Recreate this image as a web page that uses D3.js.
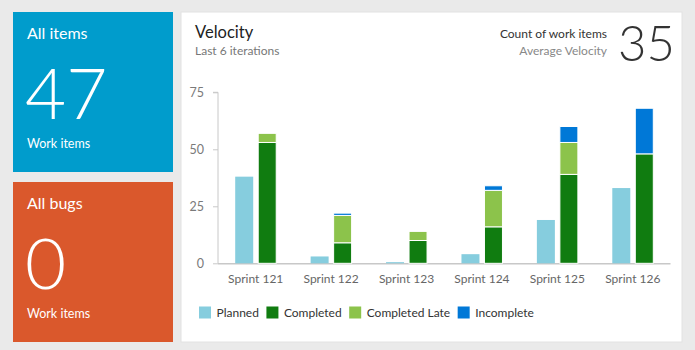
<!DOCTYPE html>
<html>
<head>
<meta charset="utf-8">
<script src="https://cdn.jsdelivr.net/npm/d3@7"></script>
<style>
  html, body { margin: 0; padding: 0; background: #eaeaea; }
  svg { display: block; }
  text { font-family: Lato, "Open Sans", sans-serif; }
</style>
</head>
<body>
<svg id="chart" width="695" height="350"></svg>
<script>
// ---- data ----
const sprints = ["Sprint 121", "Sprint 122", "Sprint 123", "Sprint 124", "Sprint 125", "Sprint 126"];
const planned = [38, 3, 0.5, 4, 19, 33];
const completed = [53, 9, 10, 16, 39, 48];
const completedLate = [4, 12, 4, 16, 14, 0];
const incomplete = [0, 1, 0, 2, 7, 20];
const yTicks = [0, 25, 50, 75];
const seriesNames = ["Planned", "Completed", "Completed Late", "Incomplete"];
const seriesColors = ["#86cdde", "#107c10", "#8cc34b", "#0078d7"];
const tiles = [
  { title: "All items", value: "47", sub: "Work items", color: "#009ccc" },
  { title: "All bugs", value: "0", sub: "Work items", color: "#da582c" }
];
const headerTitle = "Velocity";
const headerSub = "Last 6 iterations";
const metricLabel = "Count of work items";
const metricSub = "Average Velocity";
const metricValue = "35";

const FONT = 'Lato, "Open Sans", sans-serif';
const svg = d3.select("#chart");

// ---- tiles ----
const tileG = svg.selectAll("g.tile").data(tiles).join("g")
  .attr("class", "tile")
  .attr("transform", (d, i) => `translate(13,${12 + i * 170})`);
tileG.append("rect").attr("width", 160).attr("height", 160).attr("fill", d => d.color);
tileG.append("text").attr("x", 14).attr("y", 26.5).attr("fill", "#fff")
  .attr("font-size", 16).text(d => d.title);
tileG.append("text").attr("x", 12).attr("y", 107).attr("fill", "#fff")
  .attr("font-size", 71).attr("font-weight", 300).text(d => d.value);
tileG.append("text").attr("x", 14).attr("y", 136).attr("fill", "#fff")
  .attr("font-size", 12.5).text(d => d.sub);

// ---- panel ----
svg.append("rect").attr("x", 181).attr("y", 12).attr("width", 501).attr("height", 330)
  .attr("fill", "#fff").attr("stroke", "#e2e2e2").attr("stroke-width", 1);

svg.append("text").attr("x", 195).attr("y", 38).attr("font-size", 16.5).attr("fill", "#222").text(headerTitle);
svg.append("text").attr("x", 195).attr("y", 55).attr("font-size", 12).attr("fill", "#777").text(headerSub);
svg.append("text").attr("x", 607).attr("y", 38).attr("font-size", 12).attr("fill", "#333")
  .attr("text-anchor", "end").text(metricLabel);
svg.append("text").attr("x", 607).attr("y", 55).attr("font-size", 12).attr("fill", "#888")
  .attr("text-anchor", "end").text(metricSub);
svg.append("text").attr("x", 618).attr("y", 60.5).attr("font-size", 49).attr("font-weight", 300)
  .attr("fill", "#333").text(metricValue);

// ---- scales ----
const x = d3.scaleBand().domain(sprints).range([218, 670.5]).padding(0);
const inner = d3.scaleBand().domain(["planned", "done"]).range([0, 41]).paddingInner(0.2174);
const y = d3.scaleLinear().domain([0, 75]).range([263.3, 92.3]);

// axis
const yAxis = d3.axisLeft(y).tickValues(yTicks).tickSize(5).tickPadding(9);
const ag = svg.append("g").attr("transform", "translate(218,0)").call(yAxis);
ag.select(".domain").attr("stroke", "#c8c8c8").attr("d", `M-5,${y(75)}H0V${y(0)}`);
ag.selectAll(".tick line").attr("stroke", "#c8c8c8");
ag.selectAll(".tick text").attr("font-size", 12.5).attr("fill", "#7a7a7a").attr("font-family", FONT);

// baseline
svg.append("line").attr("x1", 218).attr("x2", 670.5).attr("y1", y(0) + 0.5).attr("y2", y(0) + 0.5)
  .attr("stroke", "#c8c8c8").attr("stroke-width", 1.5);

// planned bars
const groupX = s => x(s) + x.bandwidth() / 2 - 20.5;
svg.append("g").selectAll("rect").data(sprints).join("rect")
  .attr("x", (s) => groupX(s) + inner("planned"))
  .attr("width", inner.bandwidth())
  .attr("y", (s, i) => y(planned[i]))
  .attr("height", (s, i) => y(0) - y(planned[i]))
  .attr("fill", seriesColors[0]);

// stacked bars
const rows = sprints.map((s, i) => ({ sprint: s, completed: completed[i], late: completedLate[i], incomplete: incomplete[i] }));
const stack = d3.stack().keys(["completed", "late", "incomplete"])(rows);
svg.append("g").selectAll("g").data(stack).join("g")
  .attr("fill", (d, i) => seriesColors[i + 1])
  .selectAll("rect").data(d => d.filter(p => p[1] - p[0] > 0)).join("rect")
  .attr("x", p => groupX(p.data.sprint) + inner("done"))
  .attr("width", inner.bandwidth())
  .attr("y", p => y(p[1]))
  .attr("height", p => y(p[0]) - y(p[1]))
  .attr("stroke", "#fff").attr("stroke-width", 1);

// x labels
svg.append("g").selectAll("text").data(sprints).join("text")
  .attr("x", s => x(s) + x.bandwidth() / 2)
  .attr("y", 283).attr("text-anchor", "middle").attr("font-size", 12).attr("fill", "#666")
  .text(s => s);

// legend
const lg = svg.append("g");
let lx = 199;
seriesNames.forEach((name, i) => {
  lg.append("rect").attr("x", lx).attr("y", 306.5).attr("width", 12).attr("height", 12).attr("fill", seriesColors[i]);
  const t = lg.append("text").attr("x", lx + 17.5).attr("y", 317).attr("font-size", 12).attr("fill", "#333").text(name);
  lx = lx + 17.5 + t.node().getComputedTextLength() + 7.5;
});
</script>
</body>
</html>
